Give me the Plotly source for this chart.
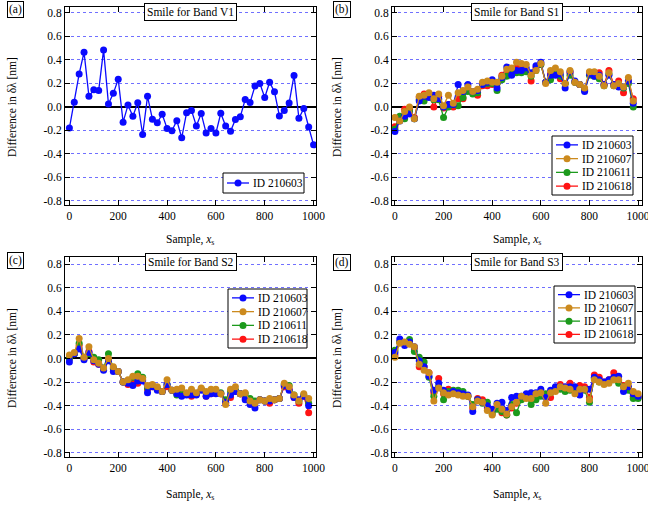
import plotly.graph_objects as go

FONT = '"Liberation Serif", "Times New Roman", Times, serif'
FS = 11.5

# ---------------- data ----------------
X_TICKS = [0, 200, 400, 600, 800, 1000]
X_TICK_LABELS = ["0", "200", "400", "600", "800", "1000"]
Y_TICKS = [-0.8, -0.6, -0.4, -0.2, 0.0, 0.2, 0.4, 0.6, 0.8]
Y_TICK_LABELS = ["-0.8", "-0.6", "-0.4", "-0.2", "0.0", "0.2", "0.4", "0.6", "0.8"]

SAMPLES_51 = list(range(0, 1001, 20))   # 0 ... 1000
SAMPLES_50 = list(range(0, 981, 20))    # 0 ... 980

# Band V1
V1_210603 = [-0.18, 0.04, 0.28, 0.465, 0.09, 0.145, 0.14, 0.485, 0.025, 0.115,
             0.235, -0.13, 0.015, -0.08, 0.035, -0.235, 0.09, -0.105, -0.135, -0.063,
             -0.183, -0.203, -0.117, -0.263, -0.049, -0.03, -0.163, -0.057, -0.223, -0.183,
             -0.223, -0.054, -0.163, -0.208, -0.108, -0.083, 0.063, 0.037, 0.177, 0.20,
             0.08, 0.21, 0.128, -0.077, -0.031, 0.034, 0.268, -0.097, -0.014, -0.171,
             -0.323]

# Band S1
S1_210603 = [-0.21, -0.12, -0.08, -0.06, -0.10, 0.05, 0.09, 0.08, 0.10, 0.07,
             0.00, 0.02, 0.02, 0.19, 0.13, 0.19, 0.13, 0.14, 0.19, 0.21,
             0.23, 0.16, 0.25, 0.34, 0.27, 0.31, 0.31, 0.33, 0.29, 0.35,
             0.38, 0.21, 0.27, 0.27, 0.28, 0.16, 0.30, 0.22, 0.19, 0.13,
             0.28, 0.26, 0.27, 0.19, 0.27, 0.19, 0.17, 0.17, 0.22, 0.03]
S1_210607 = [-0.09, -0.12, -0.04, 0.00, -0.10, 0.09, 0.10, 0.12, 0.07, 0.11,
             0.01, 0.10, 0.03, 0.12, 0.14, 0.17, 0.13, 0.15, 0.21, 0.22,
             0.21, 0.21, 0.26, 0.32, 0.33, 0.38, 0.37, 0.36, 0.27, 0.31,
             0.37, 0.20, 0.31, 0.33, 0.30, 0.20, 0.31, 0.21, 0.19, 0.16,
             0.30, 0.30, 0.26, 0.18, 0.29, 0.18, 0.20, 0.17, 0.25, 0.05]
S1_210611 = [-0.19, -0.08, -0.10, -0.04, -0.10, 0.06, 0.05, 0.09, 0.06, 0.06,
             -0.09, 0.00, 0.02, 0.01, 0.08, 0.13, 0.11, 0.12, 0.19, 0.20,
             0.20, 0.14, 0.23, 0.26, 0.28, 0.29, 0.29, 0.30, 0.26, 0.31,
             0.36, 0.21, 0.23, 0.28, 0.26, 0.20, 0.27, 0.21, 0.19, 0.14,
             0.27, 0.26, 0.24, 0.18, 0.28, 0.18, 0.19, 0.16, 0.20, 0.00]
S1_210618 = [-0.17, -0.10, -0.02, -0.02, -0.09, 0.08, 0.11, 0.11, 0.00, 0.09,
             -0.01, 0.02, 0.00, 0.07, 0.07, 0.14, 0.12, 0.10, 0.18, 0.18,
             0.19, 0.20, 0.27, 0.29, 0.30, 0.33, 0.34, 0.31, 0.22, 0.33,
             0.36, 0.21, 0.28, 0.29, 0.24, 0.20, 0.29, 0.21, 0.19, 0.15,
             0.29, 0.29, 0.29, 0.19, 0.31, 0.19, 0.22, 0.12, 0.22, 0.07]

# Band S2
S2_210603 = [-0.03, 0.04, 0.08, -0.01, 0.05, -0.02, -0.05, -0.10, -0.02, -0.11,
             -0.11, -0.20, -0.21, -0.23, -0.19, -0.19, -0.29, -0.24, -0.27, -0.28,
             -0.22, -0.27, -0.30, -0.32, -0.31, -0.31, -0.31, -0.27, -0.32, -0.30,
             -0.30, -0.30, -0.37, -0.31, -0.28, -0.30, -0.35, -0.39, -0.42, -0.35,
             -0.36, -0.36, -0.35, -0.34, -0.23, -0.27, -0.33, -0.35, -0.32, -0.40]
S2_210607 = [0.03, 0.05, 0.17, 0.01, 0.10, -0.01, -0.04, -0.08, 0.00, -0.07,
             -0.11, -0.20, -0.18, -0.15, -0.15, -0.17, -0.23, -0.22, -0.24, -0.28,
             -0.18, -0.27, -0.26, -0.25, -0.29, -0.26, -0.29, -0.25, -0.28, -0.26,
             -0.26, -0.30, -0.39, -0.26, -0.24, -0.30, -0.29, -0.36, -0.38, -0.35,
             -0.36, -0.34, -0.35, -0.34, -0.21, -0.24, -0.31, -0.36, -0.30, -0.34]
S2_210611 = [0.00, 0.04, 0.13, 0.01, 0.04, 0.01, -0.01, -0.08, 0.04, -0.08,
             -0.11, -0.20, -0.19, -0.16, -0.13, -0.16, -0.25, -0.23, -0.25, -0.28,
             -0.22, -0.27, -0.31, -0.28, -0.30, -0.30, -0.30, -0.26, -0.29, -0.28,
             -0.28, -0.29, -0.35, -0.28, -0.27, -0.30, -0.30, -0.34, -0.36, -0.35,
             -0.36, -0.35, -0.35, -0.34, -0.22, -0.23, -0.31, -0.36, -0.31, -0.38]
S2_210618 = [0.00, 0.04, 0.11, 0.00, 0.06, -0.03, -0.05, -0.09, -0.01, -0.09,
             -0.11, -0.20, -0.22, -0.21, -0.21, -0.18, -0.26, -0.24, -0.26, -0.28,
             -0.24, -0.27, -0.29, -0.29, -0.30, -0.32, -0.30, -0.26, -0.32, -0.30,
             -0.29, -0.30, -0.38, -0.33, -0.28, -0.30, -0.33, -0.36, -0.37, -0.35,
             -0.36, -0.38, -0.35, -0.34, -0.24, -0.26, -0.33, -0.38, -0.32, -0.46]

# Band S3
S3_210603 = [0.05, 0.165, 0.11, 0.14, 0.10, -0.02, -0.07, -0.15, -0.27, -0.21,
             -0.27, -0.30, -0.28, -0.29, -0.30, -0.31, -0.45, -0.35, -0.37, -0.40,
             -0.43, -0.38, -0.37, -0.44, -0.33, -0.32, -0.32, -0.30, -0.29, -0.29,
             -0.26, -0.33, -0.27, -0.24, -0.24, -0.24, -0.24, -0.24, -0.31, -0.26,
             -0.26, -0.16, -0.18, -0.20, -0.18, -0.16, -0.15, -0.28, -0.24, -0.30,
             -0.32]
S3_210607 = [0.01, 0.13, 0.14, 0.12, 0.10, -0.05, -0.10, -0.12, -0.36, -0.25,
             -0.29, -0.31, -0.30, -0.31, -0.32, -0.32, -0.41, -0.36, -0.37, -0.44,
             -0.48, -0.39, -0.43, -0.47, -0.41, -0.37, -0.32, -0.34, -0.34, -0.30,
             -0.29, -0.38, -0.29, -0.28, -0.24, -0.25, -0.26, -0.30, -0.26, -0.26,
             -0.35, -0.18, -0.20, -0.22, -0.21, -0.18, -0.18, -0.24, -0.21, -0.28,
             -0.30]
S3_210611 = [0.07, 0.14, 0.13, 0.16, 0.06, 0.01, -0.03, -0.16, -0.32, -0.24,
             -0.35, -0.28, -0.27, -0.27, -0.28, -0.32, -0.39, -0.35, -0.38, -0.37,
             -0.47, -0.43, -0.45, -0.48, -0.39, -0.46, -0.35, -0.33, -0.39, -0.35,
             -0.32, -0.30, -0.29, -0.27, -0.26, -0.28, -0.27, -0.27, -0.27, -0.27,
             -0.37, -0.17, -0.20, -0.21, -0.20, -0.18, -0.21, -0.24, -0.27, -0.34,
             -0.34]
S3_210618 = [0.03, 0.14, 0.13, 0.14, 0.09, -0.07, -0.07, -0.12, -0.29, -0.17,
             -0.30, -0.26, -0.28, -0.29, -0.31, -0.32, -0.42, -0.34, -0.35, -0.42,
             -0.45, -0.41, -0.46, -0.48, -0.42, -0.38, -0.34, -0.33, -0.34, -0.31,
             -0.30, -0.31, -0.33, -0.26, -0.22, -0.25, -0.21, -0.27, -0.23, -0.24,
             -0.33, -0.14, -0.16, -0.20, -0.18, -0.12, -0.19, -0.23, -0.25, -0.32,
             -0.33]

# ---------------- styling ----------------
COLORS = {"ID 210603": "#0a0aff", "ID 210607": "#cc8a1e",
          "ID 210611": "#1c9a1c", "ID 210618": "#ff1414"}
LEGEND_ORDER = ["ID 210603", "ID 210607", "ID 210611", "ID 210618"]
DRAW_ORDER = ["ID 210618", "ID 210611", "ID 210603", "ID 210607"]

W, H = 648, 506


def px_x(p):
    return p / W


def px_y(p):
    return 1 - p / H


LEFT_DOM = [px_x(65), px_x(316)]
RIGHT_DOM = [px_x(392), px_x(642)]
TOP_DOM = [px_y(205), px_y(7)]
BOT_DOM = [px_y(457), px_y(257)]

panels = [
    dict(tag="(a)", title="Smile for Band V1", xd=LEFT_DOM, yd=TOP_DOM,
         xr=[-18, 1010], yr=[-0.835, 0.85], x=SAMPLES_51,
         series={"ID 210603": V1_210603},
         legend_box=(223, 173, 304, 193),
         tagpos=(15, 10), ytitle_x=12, ytitle_y=107, xtitle_y=240),
    dict(tag="(b)", title="Smile for Band S1", xd=RIGHT_DOM, yd=TOP_DOM,
         xr=[-12, 1016], yr=[-0.835, 0.85], x=SAMPLES_50,
         series={"ID 210603": S1_210603, "ID 210607": S1_210607,
                 "ID 210611": S1_210611, "ID 210618": S1_210618},
         legend_box=(552, 136, 633, 195),
         tagpos=(342, 10), ytitle_x=337, ytitle_y=107, xtitle_y=240),
    dict(tag="(c)", title="Smile for Band S2", xd=LEFT_DOM, yd=BOT_DOM,
         xr=[-18, 1010], yr=[-0.835, 0.86], x=SAMPLES_50,
         series={"ID 210603": S2_210603, "ID 210607": S2_210607,
                 "ID 210611": S2_210611, "ID 210618": S2_210618},
         legend_box=(228, 289, 307, 348),
         tagpos=(15, 260), ytitle_x=12, ytitle_y=358, xtitle_y=495),
    dict(tag="(d)", title="Smile for Band S3", xd=RIGHT_DOM, yd=BOT_DOM,
         xr=[-12, 1016], yr=[-0.835, 0.86], x=SAMPLES_51,
         series={"ID 210603": S3_210603, "ID 210607": S3_210607,
                 "ID 210611": S3_210611, "ID 210618": S3_210618},
         legend_box=(554, 286, 635, 343),
         tagpos=(342, 262), ytitle_x=337, ytitle_y=358, xtitle_y=495),
]

text_font = dict(family=FONT, size=FS, color="black")
fig = go.Figure()
layout = dict(width=W, height=H, margin=dict(l=0, r=0, t=0, b=0, pad=0),
              autosize=False,
              paper_bgcolor="white", plot_bgcolor="white",
              font=text_font, showlegend=False,
              annotations=[], shapes=[])

for i, p in enumerate(panels, start=1):
    sfx = "" if i == 1 else str(i)
    xa, ya = "x" + sfx, "y" + sfx

    layout["xaxis" + sfx] = dict(
        domain=p["xd"], range=p["xr"], anchor=ya, automargin=False,
        ticklabeloverflow="allow",
        showline=True, linecolor="black", linewidth=1, mirror="ticks",
        ticks="inside", ticklen=5, tickcolor="black", tickwidth=1,
        tickvals=X_TICKS, ticktext=X_TICK_LABELS, tickfont=text_font,
        showgrid=False, zeroline=False, fixedrange=True)
    layout["yaxis" + sfx] = dict(
        domain=p["yd"], range=p["yr"], anchor=xa, automargin=False,
        ticklabeloverflow="allow",
        showline=True, linecolor="black", linewidth=1, mirror="ticks",
        ticks="inside", ticklen=5, tickcolor="black", tickwidth=1,
        tickvals=Y_TICKS, ticktext=Y_TICK_LABELS, tickfont=text_font,
        showgrid=True, gridcolor="#7070ff", gridwidth=1, griddash="dot",
        zeroline=True, zerolinecolor="black", zerolinewidth=1.5,
        fixedrange=True)

    for name in DRAW_ORDER:
        if name not in p["series"]:
            continue
        fig.add_trace(go.Scatter(
            x=p["x"], y=p["series"][name], name=name,
            mode="lines+markers",
            line=dict(color=COLORS[name], width=1.3),
            marker=dict(color=COLORS[name], size=7),
            xaxis=xa, yaxis=ya))

    xc = (p["xd"][0] + p["xd"][1]) / 2
    ann = layout["annotations"]
    shp = layout["shapes"]

    # boxed panel title straddling the top frame
    ann.append(dict(text=p["title"], x=xc, y=p["yd"][1] - 5 / H,
                    xref="paper", yref="paper", xanchor="center", yanchor="middle",
                    showarrow=False, bgcolor="white", bordercolor="black",
                    borderwidth=1, borderpad=2, font=text_font))
    # boxed panel tag
    ann.append(dict(text=p["tag"], x=px_x(p["tagpos"][0]), y=px_y(p["tagpos"][1]),
                    xref="paper", yref="paper", xanchor="center", yanchor="middle",
                    showarrow=False, bgcolor="white", bordercolor="black",
                    borderwidth=1, borderpad=1, font=text_font))
    # axis titles
    ann.append(dict(text="Difference in δλ [nm]", textangle=-90,
                    x=px_x(p["ytitle_x"]), y=px_y(p["ytitle_y"]),
                    xref="paper", yref="paper", xanchor="center", yanchor="middle",
                    showarrow=False, font=text_font))
    ann.append(dict(text="Sample, <i>x</i><sub>s</sub>",
                    x=xc, y=px_y(p["xtitle_y"]),
                    xref="paper", yref="paper", xanchor="center", yanchor="middle",
                    showarrow=False, font=text_font))

    # compact framed legend: line + marker sample followed by the series name
    bx0, by0, bx1, by1 = p["legend_box"]
    shp.append(dict(type="rect", xref="paper", yref="paper", layer="above",
                    x0=px_x(bx0), x1=px_x(bx1), y0=px_y(by1), y1=px_y(by0),
                    line=dict(color="black", width=1), fillcolor="white"))
    names = [n for n in LEGEND_ORDER if n in p["series"]]
    row_h = (by1 - by0 - 4) / len(names)
    r = 3.5
    for k, name in enumerate(names):
        cy = by0 + 2 + row_h * (k + 0.5)
        col = COLORS[name]
        shp.append(dict(type="line", xref="paper", yref="paper", layer="above",
                        x0=px_x(bx0 + 4), x1=px_x(bx0 + 26),
                        y0=px_y(cy), y1=px_y(cy),
                        line=dict(color=col, width=1.3)))
        shp.append(dict(type="circle", xref="paper", yref="paper", layer="above",
                        x0=px_x(bx0 + 15 - r), x1=px_x(bx0 + 15 + r),
                        y0=px_y(cy + r), y1=px_y(cy - r),
                        line=dict(color=col, width=0), fillcolor=col))
        ann.append(dict(text=name, x=px_x(bx0 + 28), y=px_y(cy),
                        xref="paper", yref="paper", xanchor="left", yanchor="middle",
                        showarrow=False, font=text_font))

fig.update_layout(**layout)
fig.write_html("out.html")
